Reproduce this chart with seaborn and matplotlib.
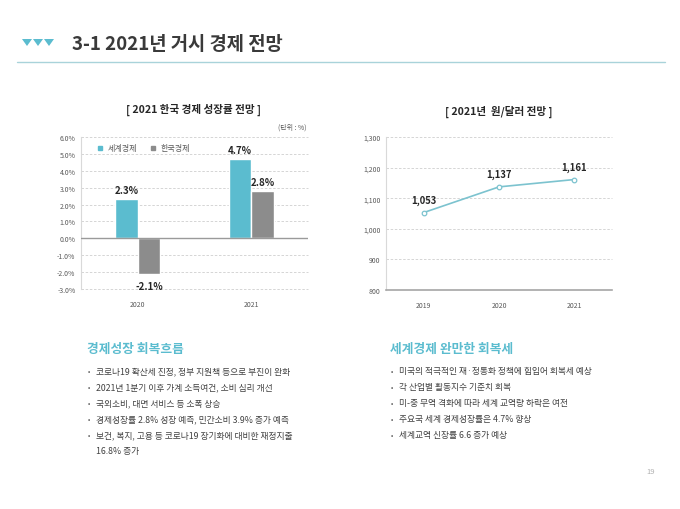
import pandas as pd
import numpy as np
import matplotlib.pyplot as plt
import seaborn as sns
from matplotlib.patches import Polygon

sns.set_theme(style="white")
plt.rcParams['font.family'] = ['Noto Sans CJK KR', 'DejaVu Sans']

# growth outlook data
years_growth = ['2020', '2021']
world_growth = [2.3, 4.7]
korea_growth = [-2.1, 2.8]
series_names = ['세계경제', '한국경제']

# won/dollar outlook
years_fx = ['2019', '2020', '2021']
won_dollar = [1053, 1137, 1161]

left_head = '경제성장 회복흐름'
left_items = ['코로나19 확산세 진정, 정부 지원책 등으로 부진이 완화',
              '2021년 1분기 이후 가계 소득여건, 소비 심리 개선',
              '국외소비, 대면 서비스 등 소폭 상승',
              '경제성장률 2.8% 성장 예측, 민간소비 3.9% 증가 예측',
              '보건, 복지, 고용 등 코로나19 장기화에 대비한 재정지출',
              '16.8% 증가']
right_head = '세계경제 완만한 회복세'
right_items = ['미국의 적극적인 재·정통화 정책에 힘입어 회복세 예상',
               '각 산업별 활동지수 기준치 회복',
               '미-중 무역 격화에 따라 세계 교역량 하락은 여전',
               '주요국 세계 경제성장률은 4.7% 향상',
               '세계교역 신장률 6.6 증가 예상']

teal = '#5bbccf'
gray = '#8c8c8c'
line_c = '#7cc3cf'
tick_c = '#595959'

W, H = 680, 510
fig = plt.figure(figsize=(6.8, 5.1), dpi=100)

def fx(x):
    return x / W

def fy(y):
    return 1 - y / H

def box(x0, y0, x1, y1):
    return [fx(x0), fy(y1), (x1 - x0) / W, (y1 - y0) / H]

# header
for cx in [27, 38, 49]:
    fig.patches.append(Polygon([(fx(cx - 5), fy(40)), (fx(cx + 5), fy(40)), (fx(cx), fy(47))],
                               closed=True, transform=fig.transFigure, color=teal, lw=0))
fig.text(fx(72), fy(45), '3-1 2021년 거시 경제 전망', fontsize=13.5, fontweight='bold',
         color='#3a3a3a', va='center', ha='left')
fig.add_artist(plt.Line2D([fx(17), fx(665)], [fy(63), fy(63)], transform=fig.transFigure,
                          color='#a9d3da', lw=1))

# bar chart
df = pd.DataFrame({'year': years_growth * 2,
                   'value': world_growth + korea_growth,
                   'series': [series_names[0]] * 2 + [series_names[1]] * 2})
ax1 = fig.add_axes(box(81, 138, 308, 290))
sns.barplot(data=df, x='year', y='value', hue='series', palette=[teal, gray],
            width=0.4, ax=ax1, saturation=1, legend=False)
ax1.set_ylim(-3, 6)
ax1.set_xlim(-0.5, 1.5)
ax1.set_yticks(np.arange(-3, 7, 1))
ax1.set_yticklabels([f'{v:.1f}%' for v in np.arange(-3, 7, 1)])
for v in np.arange(-3, 7, 1):
    if v != 0:
        ax1.axhline(v, color='#cfcfcf', lw=0.6, ls=(0, (3, 2)), zorder=0, clip_on=False)
ax1.axhline(0, color='#9a9a9a', lw=1, zorder=3)
for p in ax1.patches:
    h = p.get_height()
    if h == 0:
        continue
    xc = p.get_x() + p.get_width() / 2
    if h > 0:
        ax1.text(xc, h + 0.55, f'{h:.1f}%', ha='center', va='center', fontsize=7,
                 fontweight='bold', color='#262626')
    else:
        ax1.text(xc, h - 0.7, f'{h:.1f}%', ha='center', va='center', fontsize=7,
                 fontweight='bold', color='#262626')
ax1.set_xlabel('')
ax1.set_ylabel('')
for s in ['top', 'right', 'bottom']:
    ax1.spines[s].set_visible(False)
ax1.spines['left'].set_color('#d9d9d9')
ax1.spines['left'].set_linewidth(0.8)
ax1.tick_params(axis='both', labelsize=5, colors=tick_c, length=0, pad=4)
ax1.tick_params(axis='x', pad=8)
ax1.set_facecolor('none')
handles = [plt.Line2D([], [], marker='s', ls='', color=c, markersize=3.5) for c in [teal, gray]]
leg = ax1.legend(handles, series_names, loc='upper left', bbox_to_anchor=(0.02, 1.0), ncol=2,
                 frameon=False, fontsize=5.8, handletextpad=0.0, columnspacing=0.9,
                 borderaxespad=0.4)
for t in leg.get_texts():
    t.set_color(tick_c)
fig.text(fx(194), fy(110), '[ 2021 한국 경제 성장률 전망 ]', fontsize=7.6, fontweight='bold',
         color='#262626', ha='center', va='center')
fig.text(fx(306), fy(128), '(단위 : %)', fontsize=5, color=tick_c, ha='right', va='center')

# line chart
fxdf = pd.DataFrame({'year': years_fx, 'rate': won_dollar})
ax2 = fig.add_axes(box(386, 138, 612, 291))
sns.pointplot(data=fxdf, x='year', y='rate', ax=ax2, color=line_c, markers='o',
              markersize=3.3, linewidth=1.2, markerfacecolor='white',
              markeredgecolor=line_c, markeredgewidth=0.9)
ax2.set_ylim(800, 1300)
ax2.set_xlim(-0.5, 2.5)
ax2.set_yticks(range(800, 1301, 100))
ax2.set_yticklabels([f'{v:,}' for v in range(800, 1301, 100)])
for v in range(900, 1301, 100):
    ax2.axhline(v, color='#cfcfcf', lw=0.6, ls=(0, (3, 2)), zorder=0, clip_on=False)
for i, v in enumerate(won_dollar):
    ax2.text(i, v + 42, f'{v:,}', ha='center', va='center', fontsize=6.8,
             fontweight='bold', color='#262626')
ax2.set_xlabel('')
ax2.set_ylabel('')
for s in ['top', 'right']:
    ax2.spines[s].set_visible(False)
ax2.spines['left'].set_color('#d9d9d9')
ax2.spines['left'].set_linewidth(0.8)
ax2.spines['bottom'].set_color('#a6a6a6')
ax2.spines['bottom'].set_linewidth(1.2)
ax2.tick_params(axis='both', labelsize=5, colors=tick_c, length=0, pad=4)
ax2.tick_params(axis='x', pad=8)
ax2.set_facecolor('none')
fig.text(fx(499), fy(112), '[ 2021년  원/달러 전망 ]', fontsize=7.6, fontweight='bold',
         color='#262626', ha='center', va='center')

# text blocks
def block(x, head, items):
    fig.text(fx(x), fy(349), head, fontsize=9.2, fontweight='bold', color=teal,
             ha='left', va='center')
    y = 372
    for i, t in enumerate(items):
        if not (head == left_head and i == len(items) - 1):
            fig.text(fx(x + 1), fy(y), '•', fontsize=5, color='#595959', ha='left', va='center')
        fig.text(fx(x + 9), fy(y), t, fontsize=6.3, color='#404040', ha='left', va='center')
        y += 16

block(87, left_head, left_items)
block(390, right_head, right_items)

fig.text(fx(651), fy(472), '19', fontsize=5.5, color='#b0b0b0', ha='center', va='center')

fig.savefig('out.png', dpi=100)
